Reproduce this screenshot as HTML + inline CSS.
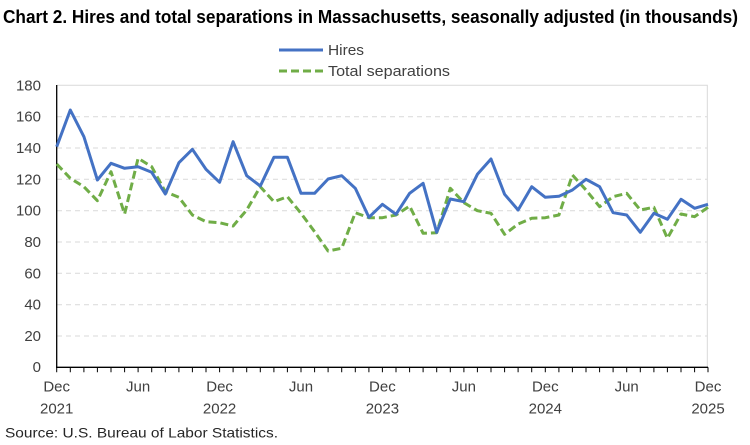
<!DOCTYPE html>
<html><head><meta charset="utf-8"><style>
html,body{margin:0;padding:0;background:#fff;}
svg{display:block;}
text{font-family:"Liberation Sans",Arial,sans-serif;}
</style></head><body>
<svg width="750" height="445" viewBox="0 0 750 445" xmlns="http://www.w3.org/2000/svg">
<text x="3" y="23" font-size="18" font-weight="bold" fill="#000" textLength="735" lengthAdjust="spacingAndGlyphs">Chart 2. Hires and total separations in Massachusetts, seasonally adjusted (in thousands)</text>
<line x1="279" y1="50" x2="323" y2="50" stroke="#4472C4" stroke-width="3"/>
<text x="328" y="55" font-size="15" fill="#404040" textLength="36" lengthAdjust="spacingAndGlyphs">Hires</text>
<line x1="279" y1="71" x2="323" y2="71" stroke="#70AD47" stroke-width="3" stroke-dasharray="8 4"/>
<text x="328" y="76" font-size="15" fill="#404040" textLength="122" lengthAdjust="spacingAndGlyphs">Total separations</text>
<g stroke="#d9d9d9" stroke-width="1" stroke-dasharray="5 4">
<line x1="57" y1="336" x2="707" y2="336"/>
<line x1="57" y1="304.7" x2="707" y2="304.7"/>
<line x1="57" y1="273.3" x2="707" y2="273.3"/>
<line x1="57" y1="242" x2="707" y2="242"/>
<line x1="57" y1="210.7" x2="707" y2="210.7"/>
<line x1="57" y1="179.3" x2="707" y2="179.3"/>
<line x1="57" y1="148" x2="707" y2="148"/>
<line x1="57" y1="116.7" x2="707" y2="116.7"/>
</g>
<polyline points="57,85.3 707.3,85.3 707.3,367.3" fill="none" stroke="#d9d9d9" stroke-width="1"/>
<g font-size="15" fill="#404040" text-anchor="end">
<text x="41" y="372">0</text>
<text x="41" y="341">20</text>
<text x="41" y="309.7">40</text>
<text x="41" y="278.3">60</text>
<text x="41" y="247">80</text>
<text x="41" y="215.7">100</text>
<text x="41" y="184.3">120</text>
<text x="41" y="153">140</text>
<text x="41" y="121.7">160</text>
<text x="41" y="90.3">180</text>
</g>
<line x1="56.7" y1="85" x2="56.7" y2="367.3" stroke="#000" stroke-width="1.3"/>
<line x1="56" y1="367.3" x2="708" y2="367.3" stroke="#000" stroke-width="1.3"/>
<g id="ticks" stroke="#000" stroke-width="1"></g>
<g font-size="15" fill="#404040" text-anchor="middle">
<text x="56.7" y="391.5">Dec</text><text x="56.7" y="413.5">2021</text>
<text x="138.1" y="391.5">Jun</text>
<text x="219.6" y="391.5">Dec</text><text x="219.6" y="413.5">2022</text>
<text x="301" y="391.5">Jun</text>
<text x="382.4" y="391.5">Dec</text><text x="382.4" y="413.5">2023</text>
<text x="463.9" y="391.5">Jun</text>
<text x="545.3" y="391.5">Dec</text><text x="545.3" y="413.5">2024</text>
<text x="626.7" y="391.5">Jun</text>
<text x="708" y="391.5">Dec</text><text x="708" y="413.5">2025</text>
</g>
<text x="5" y="437.5" font-size="14" fill="#262626" textLength="273" lengthAdjust="spacingAndGlyphs">Source: U.S. Bureau of Labor Statistics.</text>
<path d="M56.7,367.3v5M70.3,367.3v5M83.9,367.3v5M97.4,367.3v5M111,367.3v5M124.6,367.3v5M138.1,367.3v5M151.7,367.3v5M165.3,367.3v5M178.9,367.3v5M192.4,367.3v5M206,367.3v5M219.6,367.3v5M233.1,367.3v5M246.7,367.3v5M260.3,367.3v5M273.9,367.3v5M287.4,367.3v5M301,367.3v5M314.6,367.3v5M328.1,367.3v5M341.7,367.3v5M355.3,367.3v5M368.9,367.3v5M382.4,367.3v5M396,367.3v5M409.6,367.3v5M423.1,367.3v5M436.7,367.3v5M450.3,367.3v5M463.9,367.3v5M477.4,367.3v5M491,367.3v5M504.6,367.3v5M518.1,367.3v5M531.7,367.3v5M545.3,367.3v5M558.9,367.3v5M572.4,367.3v5M586,367.3v5M599.6,367.3v5M613.1,367.3v5M626.7,367.3v5M640.3,367.3v5M653.9,367.3v5M667.4,367.3v5M681,367.3v5M694.6,367.3v5M708,367.3v5" stroke="#000" stroke-width="1" fill="none"/>
<polyline fill="none" stroke="#70AD47" stroke-width="3" stroke-dasharray="8 4" stroke-linejoin="round" points="56.7,164 70.3,178.3 83.9,186.7 97.4,200.7 111,171.7 124.6,214 138.1,158.3 151.7,166.7 165.3,191.7 178.9,197.3 192.4,215 206,221.7 219.6,222.7 233.1,226 246.7,210 260.3,186.7 273.9,201.7 287.4,196.7 301,213.3 314.6,231.7 328.1,251 341.7,248.3 355.3,212.7 368.9,217.7 382.4,217.7 396,215 409.6,206 423.1,233.3 436.7,232.7 450.3,188.3 463.9,202.7 477.4,210.7 491,213.3 504.6,234.3 518.1,224 531.7,218.3 545.3,217.7 558.9,215 572.4,175 586,190 599.6,206.7 613.1,196.7 626.7,193.3 640.3,210 653.9,207.3 667.4,238.3 681,214 694.6,216.7 708,207.3"/>
<polyline fill="none" stroke="#4472C4" stroke-width="3" stroke-linejoin="round" points="56.7,146.7 70.3,110 83.9,136.7 97.4,180 111,163.3 124.6,168.3 138.1,166.7 151.7,172.3 165.3,194 178.9,162.7 192.4,149.3 206,169.3 219.6,182.3 233.1,141.7 246.7,175.7 260.3,186 273.9,157.3 287.4,157.3 301,193.3 314.6,193.3 328.1,179 341.7,175.7 355.3,188.3 368.9,217.3 382.4,204.3 396,214.3 409.6,193.3 423.1,183.3 436.7,232.3 450.3,199 463.9,201.7 477.4,174.3 491,159 504.6,194.3 518.1,210 531.7,186.7 545.3,197.3 558.9,196.3 572.4,190 586,179.3 599.6,186.7 613.1,212.7 626.7,215 640.3,232.3 653.9,213.3 667.4,219.3 681,199.3 694.6,208.3 708,204.3"/>
</svg>
</body></html>
